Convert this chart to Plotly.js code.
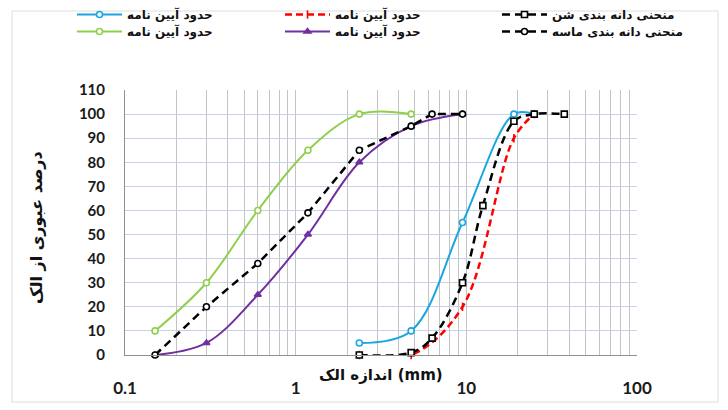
<!DOCTYPE html>
<html>
<head>
<meta charset="utf-8">
<script src="https://cdn.plot.ly/plotly-3.0.1.min.js"></script>
<style>html,body{margin:0;padding:0;background:#fff;}#chart{width:728px;height:410px;}</style>
</head>
<body>
<div id="chart"></div>
<script>
// Sieve sizes (mm) and passing percentages
const sandUpperX = [0.15, 0.3, 0.6, 1.18, 2.36, 4.75];
const sandUpperY = [10, 30, 60, 85, 100, 100];
const sandLowerX = [0.15, 0.3, 0.6, 1.18, 2.36, 4.75, 9.5];
const sandLowerY = [0, 5, 25, 50, 80, 95, 100];
const sandCurveX = [0.15, 0.3, 0.6, 1.18, 2.36, 4.75, 6.3, 9.5];
const sandCurveY = [0, 20, 38, 59, 85, 95, 100, 100];

const gravelUpperX = [2.36, 4.75, 9.5, 19, 25];
const gravelUpperY = [5, 10, 55, 100, 100];
const gravelLowerX = [2.36, 4.75, 9.5, 19, 25];
const gravelLowerY = [0, 0, 20, 90, 100];
const gravelCurveX = [2.36, 4.75, 6.3, 9.5, 12.5, 19, 25, 37.5];
const gravelCurveY = [0, 1, 7, 30, 62, 97, 100, 100];

const xTickVals = [0.1, 1, 10, 100];
const xTickText = ['0.1', '1', '10', '100'];

const limitName = 'حدود آیین نامه';
const gravelName = 'منحنی دانه بندی شن';
const sandName = 'منحنی دانه بندی ماسه';
const xTitle = 'اندازه الک (mm)';
const yTitle = 'درصد عبوری از الک';

const arFont = 'DejaVu Sans, Noto Sans, sans-serif';
const numFont = 'Lato, Open Sans, sans-serif';

function mk(x, y, name, color, dash, symbol, shape, fill, legend) {
  return {
    x: x, y: y, name: name, type: 'scatter', mode: 'lines+markers', legend: legend,
    line: {color: color, width: dash ? 2.5 : 2, dash: dash || 'solid', shape: shape, smoothing: 1},
    marker: {symbol: symbol, size: 6, color: fill, line: {color: color, width: 1.6}},
    cliponaxis: false
  };
}

const traces = [
  mk(gravelUpperX, gravelUpperY, limitName, '#1ba6e2', null, 'circle', 'spline', '#ffffff', 'legend'),
  mk(gravelLowerX, gravelLowerY, limitName, '#ff0000', '7px,4px', 'line-ns', 'spline', '#ff0000', 'legend2'),
  mk(gravelCurveX, gravelCurveY, gravelName, '#000000', '8px,5px', 'square', 'spline', '#ffffff', 'legend3'),
  mk(sandUpperX, sandUpperY, limitName, '#8fcf4a', null, 'circle', 'spline', '#ffffff', 'legend4'),
  mk(sandLowerX, sandLowerY, limitName, '#7030a0', null, 'triangle-up', 'spline', '#7030a0', 'legend5'),
  mk(sandCurveX, sandCurveY, sandName, '#000000', '8px,5px', 'circle', 'linear', '#ffffff', 'legend6')
];

const W = 728, H = 410, L = 125, R = 91, T = 90, B = 55;
const pw = W - L - R, ph = H - T - B;
function px(xp) { return (xp - L) / pw; }
function py(yp) { return (H - B - yp) / ph; }

function legendAt(xpix, ypix) {
  return {
    orientation: 'v', xref: 'paper', yref: 'paper',
    x: px(xpix), y: py(ypix), xanchor: 'left', yanchor: 'top',
    itemwidth: 45, tracegroupgap: 0,
    font: {family: arFont, size: 12, color: '#111', weight: 'bold'},
    bgcolor: 'rgba(0,0,0,0)', traceorder: 'normal'
  };
}

const layout = {
  width: W, height: H,
  margin: {l: L, r: R, t: T, b: B, autoexpand: false},
  paper_bgcolor: '#ffffff', plot_bgcolor: '#ffffff',
  showlegend: true,
  legend: legendAt(72, 0),
  legend2: legendAt(280, 0),
  legend3: legendAt(497, 0),
  legend4: legendAt(72, 17),
  legend5: legendAt(280, 17),
  legend6: legendAt(497, 17),
  xaxis: {
    type: 'log', range: [-1, 2], tickmode: 'array', tickvals: xTickVals, ticktext: xTickText,
    showgrid: true, gridcolor: '#c3c3c3', gridwidth: 1,
    minor: {dtick: 'D1', showgrid: true, gridcolor: '#c3c3c3', gridwidth: 1, ticks: ''},
    showline: true, linecolor: '#8f8f8f', linewidth: 1, ticks: '', zeroline: false,
    ticklabelstandoff: 18, automargin: false,
    tickfont: {family: numFont, size: 17, color: '#1a1a1a', weight: 'bold'}
  },
  yaxis: {
    range: [0, 110], dtick: 10, tick0: 0,
    showgrid: true, gridcolor: '#c6d0e8', gridwidth: 1,
    showline: true, linecolor: '#8f8f8f', linewidth: 1, ticks: '', zeroline: false,
    ticklabelstandoff: 16, automargin: false,
    tickfont: {family: numFont, size: 15, color: '#1a1a1a', weight: 'bold'}
  },
  annotations: [
    {text: xTitle, xref: 'paper', yref: 'paper', x: px(381), y: py(375), showarrow: false,
     xanchor: 'center', yanchor: 'middle', font: {family: arFont, size: 15, color: '#111', weight: 'bold'}},
    {text: yTitle, xref: 'paper', yref: 'paper', x: px(36), y: py(228), showarrow: false, textangle: -90,
     xanchor: 'center', yanchor: 'middle', font: {family: arFont, size: 16, color: '#111', weight: 'bold'}}
  ],
  shapes: [
    {type: 'rect', xref: 'paper', yref: 'paper', x0: px(12), x1: px(718), y0: py(402), y1: py(11),
     line: {color: '#dedede', width: 1}, layer: 'below'}
  ]
};

Plotly.newPlot('chart', traces, layout, {displayModeBar: false, staticPlot: true});
</script>
</body>
</html>
